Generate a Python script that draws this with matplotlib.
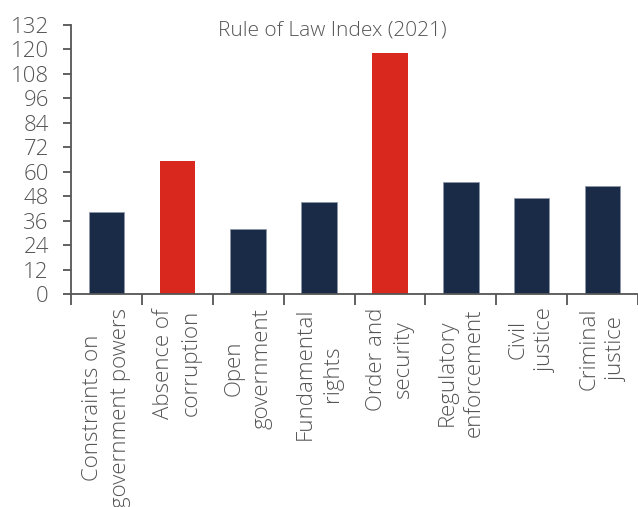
import matplotlib
matplotlib.use("Agg")
import matplotlib.pyplot as plt
import numpy as np

plt.rcParams['font.family'] = ['Open Sans', 'DejaVu Sans']

categories = ["Constraints on\ngovernment powers", "Absence of\ncorruption",
              "Open\ngovernment", "Fundamental\nrights", "Order and\nsecurity",
              "Regulatory\nenforcement", "Civil\njustice", "Criminal\njustice"]
scores = [40, 65, 32, 45, 118, 55, 47, 53]
highlight = [False, True, False, False, True, False, False, False]
yticks = list(range(0, 133, 12))

navy = '#1a2b48'
red = '#d9291e'
grey = '#555555'

fig = plt.figure(figsize=(6.38, 5.07), dpi=100)
ax = fig.add_axes([71/638, 1 - 294/507, 1 - 71/638, (294 - 24.7)/507])

x = np.arange(len(categories))
colors = [red if h else navy for h in highlight]
bars = ax.bar(x, scores, width=0.5, color=colors, zorder=2)
for b, h in zip(bars, highlight):
    if not h:
        b.set_edgecolor('#8d97a8')
        b.set_linewidth(0.6)

ax.set_xlim(-0.5, len(categories) - 0.5)
ax.set_ylim(0, 132)
ax.set_yticks(yticks)
ax.set_yticklabels([str(v) for v in yticks], fontsize=16, color=grey, fontweight='light')
ax.set_xticks(x)
ax.set_xticklabels(categories, rotation=90, fontsize=16, color=grey, fontweight='light',
                   va='top', ha='center', multialignment='center', linespacing=1.42)
ax.set_xticks(np.arange(-0.5, len(categories)), minor=True)
ax.tick_params(axis='x', which='major', length=0, pad=10)
ax.tick_params(axis='x', which='minor', length=8, width=1.3, color=grey, direction='out')
ax.tick_params(axis='y', length=6, width=1.3, color=grey, pad=10)

for side in ['top', 'right']:
    ax.spines[side].set_visible(False)
for side in ['left', 'bottom']:
    ax.spines[side].set_color(grey)
    ax.spines[side].set_linewidth(1.3)

fig.text(332/638, 1 - 31/507, "Rule of Law Index (2021)", ha='center', va='center',
         fontsize=15, color=grey, fontweight='light')

fig.savefig("out.png", dpi=100)
